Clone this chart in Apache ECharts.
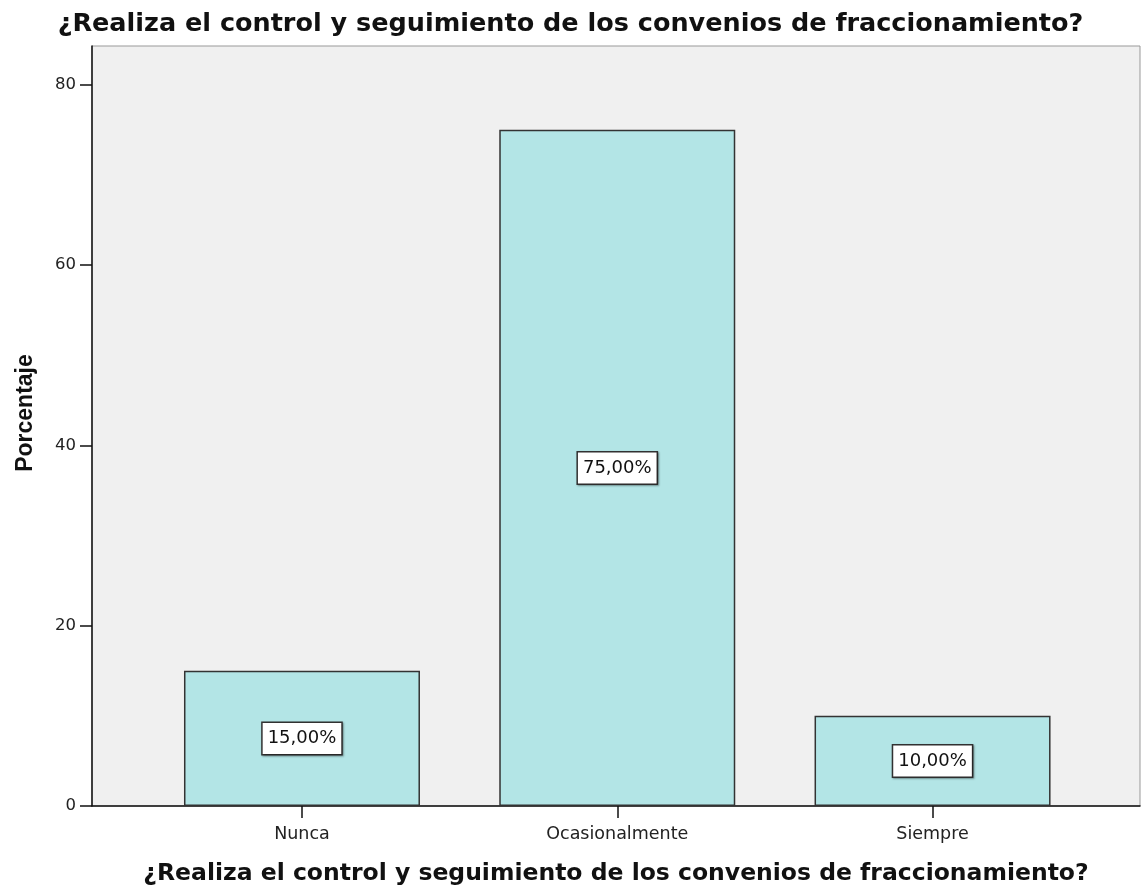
<!DOCTYPE html>
<html>
<head>
<meta charset="utf-8">
<script src="https://cdn.jsdelivr.net/npm/echarts@6/dist/echarts.min.js"></script>
<style>
  html, body { margin: 0; padding: 0; background: #fff; }
  #main { width: 1141px; height: 892px; }
</style>
</head>
<body>
<div id="main"></div>
<script>
var titulo = '¿Realiza el control y seguimiento de los convenios de fraccionamiento?';
var categorias = ['Nunca', 'Ocasionalmente', 'Siempre'];
var porcentajes = [15, 75, 10];
var yTicks = [0, 20, 40, 60, 80];

var chartDom = document.getElementById('main');
var myChart = echarts.init(chartDom);
var option;

// bars sit at x = 0, 1, 2 on a value axis so the side gaps match the original
var barData = categorias.map(function (c, i) { return [i, porcentajes[i]]; });
var xPos = categorias.map(function (c, i) { return i; });

option = {
  backgroundColor: '#ffffff',
  title: {
    text: titulo,
    left: 'center',
    top: 6,
    textStyle: { fontFamily: 'DejaVu Sans', fontWeight: 'bold', fontSize: 25.5, color: '#111' }
  },
  grid: {
    left: 92, right: 1, top: 46, bottom: 86,
    outerBoundsMode: 'none',
    containLabel: false,
    show: true, backgroundColor: '#f0f0f0', borderColor: '#999', borderWidth: 1
  },
  xAxis: {
    type: 'value',
    min: -0.666, max: 2.658,
    name: titulo,
    nameLocation: 'middle',
    nameGap: 56,
    nameTextStyle: { fontFamily: 'DejaVu Sans', fontWeight: 'bold', fontSize: 23.5, color: '#111' },
    axisLine: { show: true, onZero: false, lineStyle: { color: '#111', width: 1.5 } },
    axisTick: { show: true, length: 12, customValues: xPos, lineStyle: { color: '#111', width: 1.5 } },
    axisLabel: {
      customValues: xPos,
      margin: 19,
      fontFamily: 'DejaVu Sans', fontSize: 17.5, color: '#222',
      formatter: function (v) { return categorias[Math.round(v)]; }
    },
    splitLine: { show: false }
  },
  yAxis: {
    type: 'value',
    min: 0, max: 84.3,
    name: 'Porcentaje',
    nameLocation: 'middle',
    nameGap: 55,
    nameTextStyle: {
      fontFamily: 'Liberation Sans', fontWeight: 'bold', fontSize: 23, color: '#111',
      padding: [0, 0, 0, 26]
    },
    axisLine: { show: true, onZero: false, lineStyle: { color: '#111', width: 1.5 } },
    axisTick: { show: true, length: 12, customValues: yTicks, lineStyle: { color: '#111', width: 1.5 } },
    axisLabel: { customValues: yTicks, margin: 16, fontFamily: 'DejaVu Sans', fontSize: 16.5, color: '#222' },
    splitLine: { show: false }
  },
  series: [
    {
      type: 'bar',
      data: barData,
      barWidth: 236,
      itemStyle: { color: '#b3e5e6', borderColor: '#333', borderWidth: 1.5 },
      label: {
        show: true,
        position: 'inside',
        fontFamily: 'DejaVu Sans', fontSize: 18, color: '#111',
        backgroundColor: '#fff',
        borderColor: '#333', borderWidth: 1.5,
        padding: [7, 5, 6, 5],
        shadowColor: 'rgba(0,0,0,0.35)', shadowBlur: 2, shadowOffsetX: 1, shadowOffsetY: 1,
        formatter: function (p) { return p.value[1].toFixed(2).replace('.', ',') + '%'; }
      }
    }
  ]
};

option && myChart.setOption(option);
</script>
</body>
</html>
